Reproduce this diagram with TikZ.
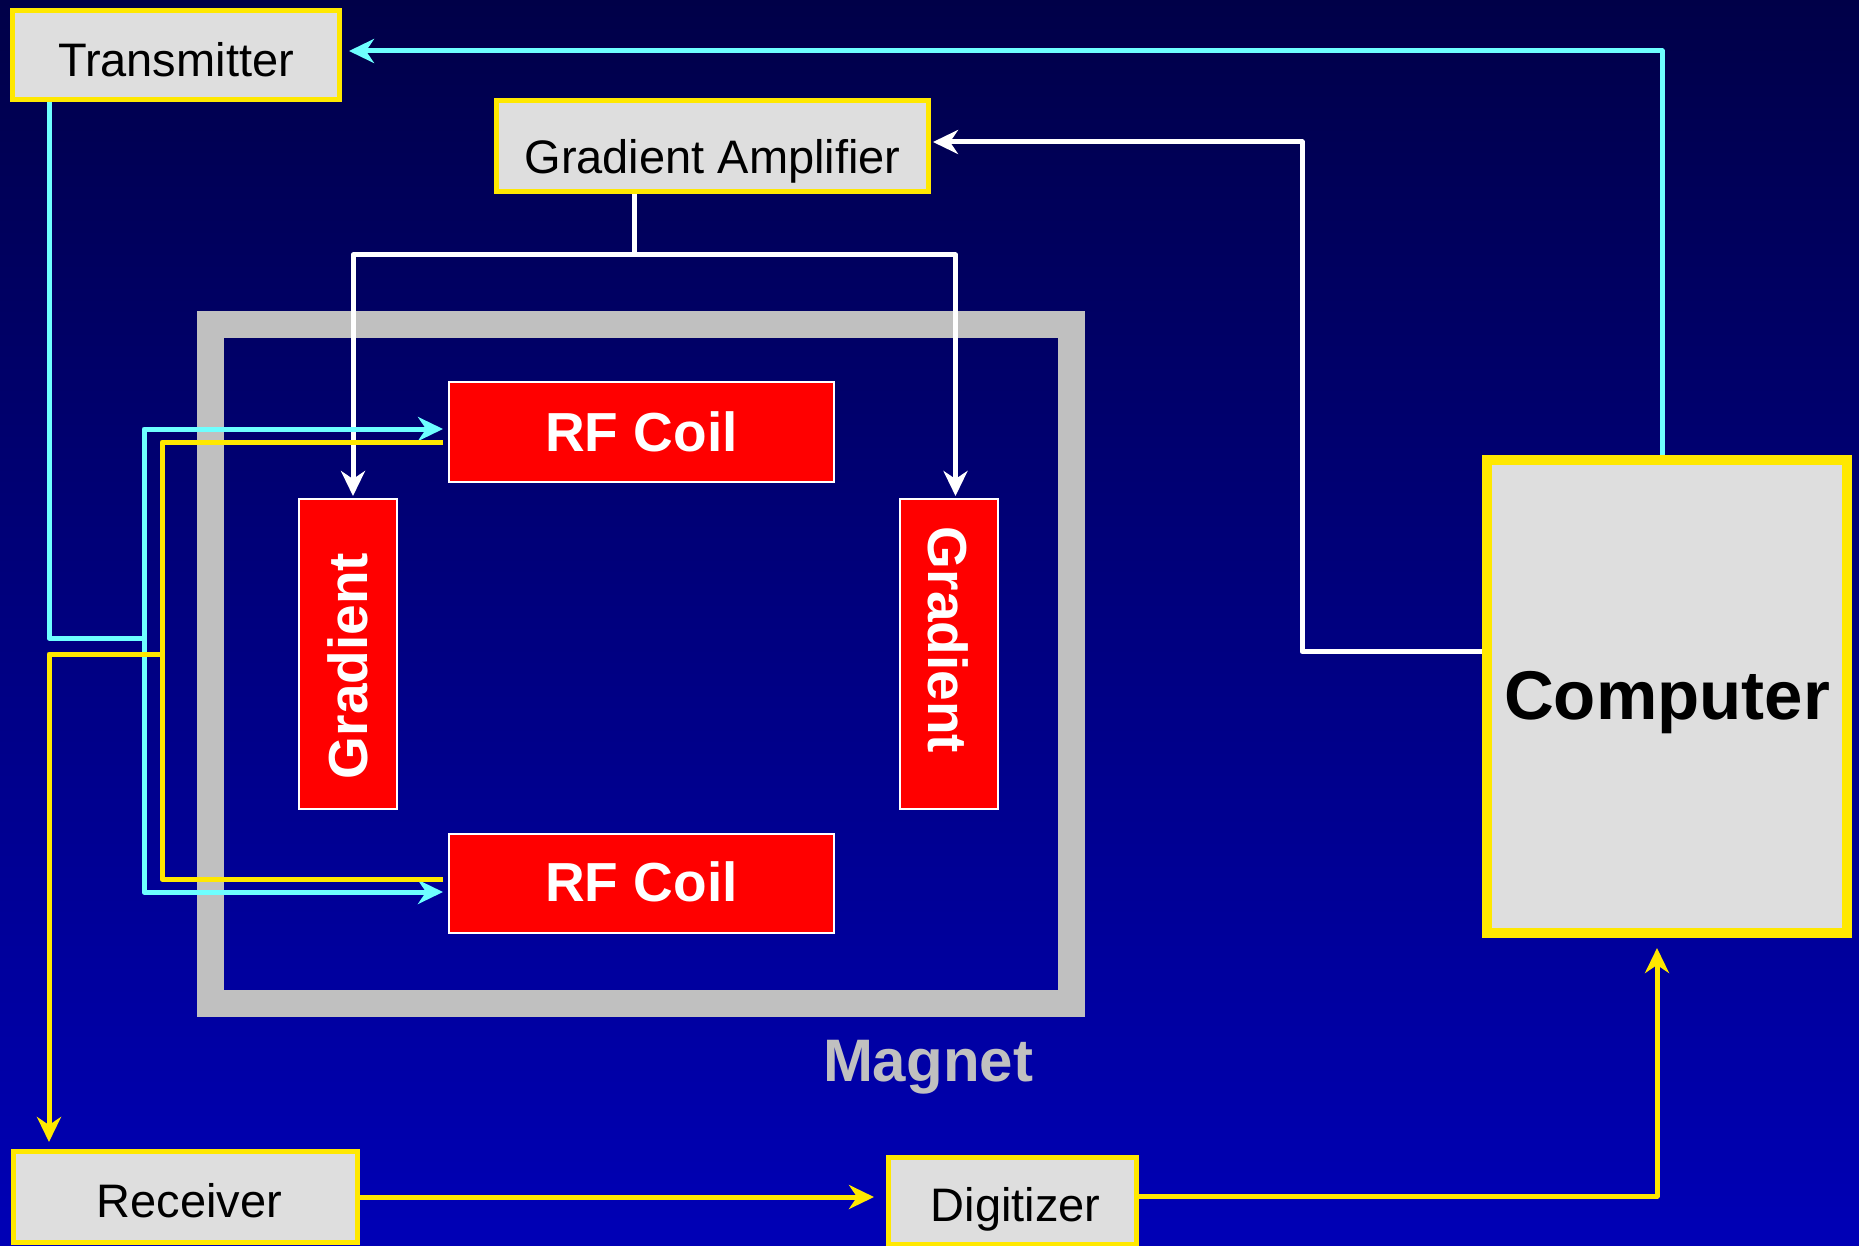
\documentclass[tikz,border=0pt]{standalone}
\usepackage{fontspec}
\setmainfont{Liberation Sans}
\usepackage{graphicx}
\usetikzlibrary{arrows.meta}
\definecolor{bgtop}{RGB}{0,0,72}
\definecolor{bgbot}{RGB}{0,0,182}
\definecolor{boxgray}{RGB}{222,222,222}
\definecolor{frameyellow}{RGB}{255,232,0}
\definecolor{sigcyan}{RGB}{110,255,255}
\definecolor{magnetgray}{RGB}{192,192,192}
\definecolor{coilred}{RGB}{255,0,0}
\newcommand{\nudge}[2]{\raisebox{#1}[\height][\depth]{#2}}

\begin{document}
\begin{tikzpicture}[x=1pt,y=-1pt,
  unitbox/.style={draw=frameyellow,fill=boxgray,line width=5pt,inner sep=0pt,font=\fontsize{47}{56}\selectfont},
  coilbox/.style={draw=white,fill=coilred,line width=2pt,inner sep=0pt,text=white,font=\bfseries\fontsize{55}{66}\selectfont},
  wire/.style={line width=5pt,line join=round},
  tip/.style={-{Stealth[length=25pt,width=24pt,inset=8pt]}}]
\useasboundingbox (0,0) rectangle (1859,1246);
\shade[top color=bgtop,bottom color=bgbot] (0,0) rectangle (1859,1246);

% magnet frame
\node[draw=magnetgray,line width=27pt,minimum width=861pt,minimum height=679pt,inner sep=0pt] (magnet) at (641,664) {};
\node[text=magnetgray,font=\bfseries\fontsize{60}{72}\selectfont] (magnetlabel) at (928,1067) {Magnet};

% units
\node[unitbox,minimum width=327pt,minimum height=89pt] (tx) at (176,55) {\nudge{-5pt}{Transmitter}};
\node[unitbox,minimum width=432pt,minimum height=91pt] (gamp) at (712.5,146) {\nudge{-15pt}{Gradient Amplifier}};
\node[unitbox,minimum width=344pt,minimum height=91pt] (rx) at (185.5,1197) {\hspace*{8pt}\nudge{-4pt}{Receiver}};
\node[unitbox,minimum width=248pt,minimum height=87pt] (dig) at (1012.5,1201) {\hspace*{6pt}\nudge{-8pt}{Digitizer}};
\node[unitbox,line width=10pt,minimum width=360pt,minimum height=473pt,font=\bfseries\fontsize{69}{82}\selectfont] (comp) at (1667,696.5) {\nudge{-6pt}{Computer}};

% coils
\node[coilbox,minimum width=385pt,minimum height=100pt] (rf1) at (641.5,432) {RF Coil};
\node[coilbox,minimum width=385pt,minimum height=99pt] (rf2) at (641.5,883.5) {\nudge{2pt}{RF Coil}};
\node[coilbox,minimum width=98pt,minimum height=310pt] (g1) at (348,654) {\nudge{-12pt}{\rotatebox{90}{Gradient}}};
\node[coilbox,minimum width=98pt,minimum height=310pt] (g2) at (948.5,654) {\nudge{14pt}{\rotatebox{-90}{Gradient}}};

% computer to transmitter and gradient amplifier
\draw[wire,tip,sigcyan,shorten >=7pt] ([xshift=-5pt]comp.north) |- ([yshift=4pt]tx.east);
\draw[wire,tip,white,shorten >=2pt] ([yshift=45pt]comp.west) -- ++(-180,0) |- ([yshift=4pt]gamp.east);

% gradient amplifier to gradients
\coordinate (gsplit) at (634,255);
\draw[wire,white] ([xshift=-78.5pt]gamp.south) -- (gsplit);
\draw[wire,tip,white,shorten >=2pt] (gsplit) -| ([xshift=5pt]g1.north);
\draw[wire,tip,white,shorten >=2pt] (gsplit) -| ([xshift=7pt]g2.north);

% transmitter to rf coils
\coordinate (txjoin) at (144,638);
\draw[wire,sigcyan] ([xshift=-127pt]tx.south) |- (txjoin);
\draw[wire,tip,sigcyan,shorten >=5pt] (txjoin) |- ([yshift=3pt]rf1.west);
\draw[wire,tip,sigcyan,shorten >=5pt] (txjoin) |- ([yshift=-8.5pt]rf2.west);

% rf coils to receiver
\coordinate (rxjoin) at (162,654);
\draw[wire,frameyellow,shorten <=5pt] ([yshift=-10pt]rf1.west) -| (rxjoin);
\draw[wire,frameyellow,shorten <=5pt] ([yshift=4.5pt]rf2.west) -| (rxjoin);
\draw[wire,tip,frameyellow,shorten >=7pt] (rxjoin) -| ([xshift=-136.5pt]rx.north);

% receiver to digitizer to computer
\draw[wire,tip,frameyellow,shorten >=12pt] (rx.east) -- (rx.east -| dig.west);
\draw[wire,tip,frameyellow,shorten >=10pt] ([yshift=5pt]dig.east) -| ([xshift=-10pt]comp.south);
\end{tikzpicture}
\end{document}
